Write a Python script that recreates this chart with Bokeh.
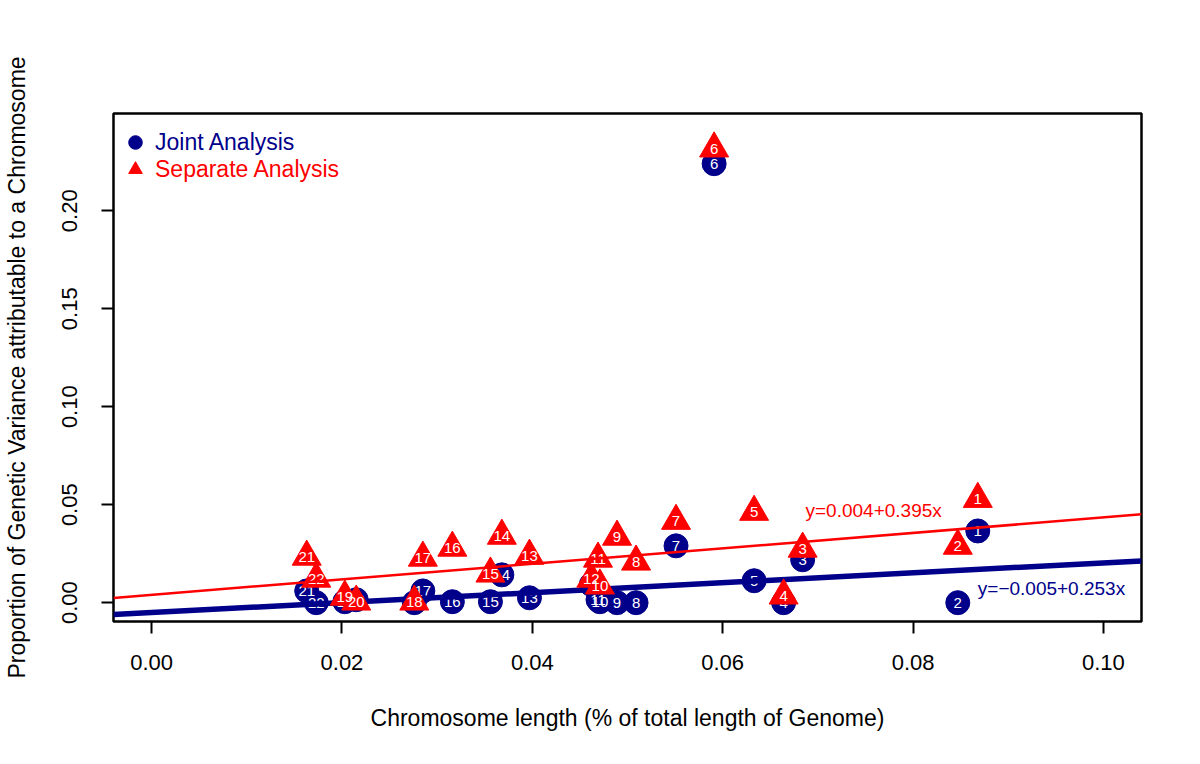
from bokeh.plotting import figure
from bokeh.models import (Range1d, FixedTicker, NumeralTickFormatter, Legend, LegendItem,
                          Label, ColumnDataSource)
from bokeh.embed import file_html
from bokeh.resources import INLINE

# ---------------- data ----------------
chromosomes = [str(i) for i in range(1, 23)]
chrom_length = [0.0868, 0.0847, 0.0684, 0.0664, 0.0633, 0.0591, 0.0551, 0.0509, 0.0489, 0.0471,
                0.0469, 0.0462, 0.0397, 0.0368, 0.0356, 0.0316, 0.0285, 0.0276, 0.0203, 0.0215,
                0.0163, 0.0173]
joint_var = [0.0366, 0.0000, 0.0219, 0.0000, 0.0112, 0.2240, 0.0290, 0.0000, 0.0000, 0.0005,
             0.0015, 0.0093, 0.0025, 0.0142, 0.0005, 0.0005, 0.0060, 0.0000, 0.0005, 0.0015,
             0.0060, 0.0000]
separate_var = [0.0529, 0.0290, 0.0275, 0.0036, 0.0463, 0.2317, 0.0417, 0.0209, 0.0336, 0.0087,
                0.0224, 0.0122, 0.0239, 0.0341, 0.0148, 0.0280, 0.0229, 0.0005, 0.0030, 0.0005,
                0.0234, 0.0122]
joint_fit = (-0.005, 0.253)      # intercept, slope
separate_fit = (0.004, 0.395)
x_ticks = [0.00, 0.02, 0.04, 0.06, 0.08, 0.10]
y_ticks = [0.00, 0.05, 0.10, 0.15, 0.20]

NAVY = "#00008B"
RED = "#FF0000"
FONT = "Liberation Sans"

x_range = Range1d(-0.004, 0.104)
y_range = Range1d(-0.0096, 0.2496)

p = figure(width=1184, height=748, x_range=x_range, y_range=y_range,
           output_backend="svg", toolbar_location=None,
           min_border_left=113, min_border_top=113, min_border_right=43, min_border_bottom=127)
p.xgrid.visible = False
p.ygrid.visible = False
p.outline_line_color = "black"
p.outline_line_width = 2.5
p.background_fill_color = "white"
p.border_fill_color = "white"

for ax, ticks in ((p.xaxis[0], x_ticks), (p.yaxis[0], y_ticks)):
    ax.ticker = FixedTicker(ticks=ticks)
    ax.formatter = NumeralTickFormatter(format="0.00")
    ax.axis_line_color = None
    ax.major_tick_line_color = "black"
    ax.major_tick_line_width = 2
    ax.major_tick_out = 12
    ax.major_tick_in = 0
    ax.minor_tick_line_color = None
    ax.major_label_text_font = FONT
    ax.major_label_text_font_size = "22px"
    ax.major_label_text_color = "black"
    ax.axis_label_text_font = FONT
    ax.axis_label_text_font_size = "23px"
    ax.axis_label_text_font_style = "normal"
    ax.axis_label_text_color = "black"

p.xaxis.axis_label = "Chromosome length (% of total length of Genome)"
p.yaxis.axis_label = "Proportion of Genetic Variance attributable to a Chromosome"
p.yaxis.major_label_orientation = "vertical"
p.xaxis.major_label_standoff = 21
p.yaxis.major_label_standoff = 24
p.xaxis.axis_label_standoff = 32
p.yaxis.axis_label_standoff = 30

src = ColumnDataSource(dict(x=chrom_length, j=joint_var, s=separate_var, lab=chromosomes))

# joint analysis points
r_joint = p.scatter("x", "j", source=src, marker="circle", size=24,
                    fill_color=NAVY, line_color=NAVY)
p.text("x", "j", text="lab", source=src, text_color="white", text_font_size="15px",
       text_align="center", text_baseline="middle", text_font={"value": FONT})

# joint regression line
xl = [x_range.start, x_range.end]
p.line(xl, [joint_fit[0] + joint_fit[1] * v for v in xl], line_color=NAVY, line_width=5.5)

# separate analysis points
r_sep = p.scatter("x", "s", source=src, marker="triangle", size=29,
                  fill_color=RED, line_color=RED)
p.text("x", "s", text="lab", source=src, text_color="white", text_font_size="15px",
       text_align="center", text_baseline="middle", text_font={"value": FONT})

# separate regression line
p.line(xl, [separate_fit[0] + separate_fit[1] * v for v in xl], line_color=RED, line_width=2.5)

# equation labels
p.add_layout(Label(x=0.0687, y=0.0469, text="y=%.3f+%.3fx" % separate_fit,
                   text_color=RED, text_font=FONT, text_font_size="19px",
                   text_baseline="middle", text_align="left"))
p.add_layout(Label(x=0.0868, y=0.0071, text="y=\u2212%.3f+%.3fx" % (-joint_fit[0], joint_fit[1]),
                   text_color=NAVY, text_font=FONT, text_font_size="19px",
                   text_baseline="middle", text_align="left"))

# legends (two, for per-item text colours)
common = dict(border_line_color=None, background_fill_alpha=0, padding=0, margin=0,
              glyph_width=34, glyph_height=34, label_standoff=3,
              label_text_font=FONT, label_text_font_size="23px")
leg1 = Legend(items=[LegendItem(label="Joint Analysis", renderers=[r_joint])],
              location=(5, 462), label_text_color=NAVY, **common)
leg2 = Legend(items=[LegendItem(label="Separate Analysis", renderers=[r_sep])],
              location=(5, 435), label_text_color=RED, **common)
p.add_layout(leg1)
p.add_layout(leg2)

open("out.html", "w").write(file_html(p, INLINE))
